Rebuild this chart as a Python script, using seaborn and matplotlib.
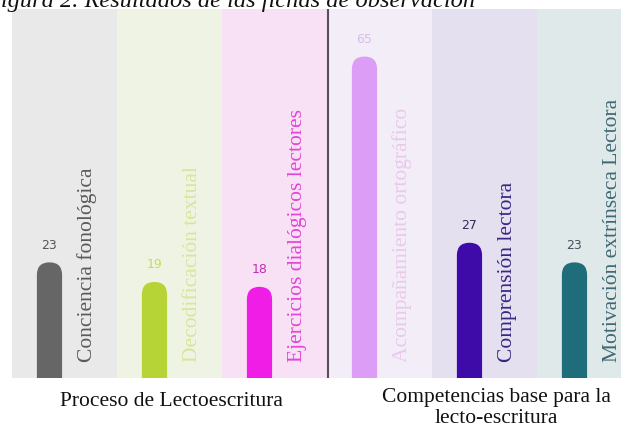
import matplotlib
matplotlib.use("Agg")
import matplotlib.pyplot as plt
import seaborn as sns
import pandas as pd
from matplotlib.patches import FancyBboxPatch

categories = ["Conciencia fonológica", "Decodificación textual",
              "Ejercicios dialógicos lectores", "Acompañamiento ortográfico",
              "Comprensión lectora", "Motivación extrínseca Lectora"]
values = [23, 19, 18, 65, 27, 23]
groups = ["Proceso de Lectoescritura", "Competencias base para la\nlecto-escritura"]
title = "Figura 2. Resultados de las fichas de observación"

bar_colors = ["#666666", "#b6d435", "#f01de6", "#dc9df6", "#3e0aa8", "#1f6d7a"]
bg_colors = ["#e9e9e9", "#eff3e3", "#f8e1f5", "#f3edf8", "#e5e0f0", "#e0e9e9"]
text_colors = ["#5a5a5a", "#d9e59c", "#e245da", "#e9c9ec", "#3b2682", "#3f6873"]
value_colors = ["#555555", "#c9d957", "#c12db9", "#d9bce9", "#2f2f52", "#44535e"]

df = pd.DataFrame({"categoria": categories, "valor": values})

sns.set_theme(style="white")
plt.rcParams['font.family'] = ['Liberation Serif', 'DejaVu Serif']

fig = plt.figure(figsize=(6.21, 4.29), dpi=100)
ax = fig.add_axes([12 / 621, 51 / 429, 609 / 621, 369 / 429])

xmin, xmax = -0.357, 5.443
ymin, ymax = -0.6, 74.7

# column backgrounds
for i, c in enumerate(bg_colors):
    ax.axvspan(i - 0.357, i + 0.643, color=c, lw=0, zorder=0)

n_bg = len(ax.patches)
sns.barplot(data=df, x="categoria", y="valor", hue="categoria", order=categories,
            palette=bar_colors, saturation=1, width=0.24, legend=False, ax=ax, zorder=2)
ax.set_xlim(xmin, xmax)
ax.set_ylim(ymin, ymax)

# rounded tops on the bars
bbox = ax.get_window_extent()
ppx = bbox.width / (xmax - xmin)
ppy = bbox.height / (ymax - ymin)
for p in list(ax.patches)[n_bg:]:
    x0, w, h = p.get_x(), p.get_width(), p.get_height()
    fc = p.get_facecolor()
    p.remove()
    base = -6
    ax.add_patch(FancyBboxPatch((x0, base), w, h - base,
                                boxstyle=f"round,pad=0,rounding_size={w / 2}",
                                mutation_aspect=ppx / ppy, fc=fc, ec="none", zorder=2))

for i, (cat, v) in enumerate(zip(categories, values)):
    ax.text(i, v + 2.2, str(v), ha="center", va="bottom", fontsize=9,
            color=value_colors[i], family=["DejaVu Sans"])
    ax.text(i + 0.36, 2.6, cat, rotation=90, ha="center", va="bottom",
            fontsize=15.5, color=text_colors[i])

ax.axvline(2.652, color="#55505e", lw=1.5, zorder=3)

ax.set_xlabel("")
ax.set_ylabel("")
ax.set_xticks([])
ax.set_yticks([])
for s in ax.spines.values():
    s.set_visible(False)

fig.text(171 / 621, 1 - 401 / 429, groups[0], ha="center", va="center", fontsize=15.5, color="#111111")
fig.text(496 / 621, 1 - 408 / 429, groups[1], ha="center", va="center", fontsize=15.5,
         color="#111111", linespacing=1.2)
fig.text(475 / 621, 1 - 7 / 429, title, ha="right", va="baseline", fontsize=17.6,
         style="italic", color="#111111")

fig.savefig("out.png", dpi=100)
